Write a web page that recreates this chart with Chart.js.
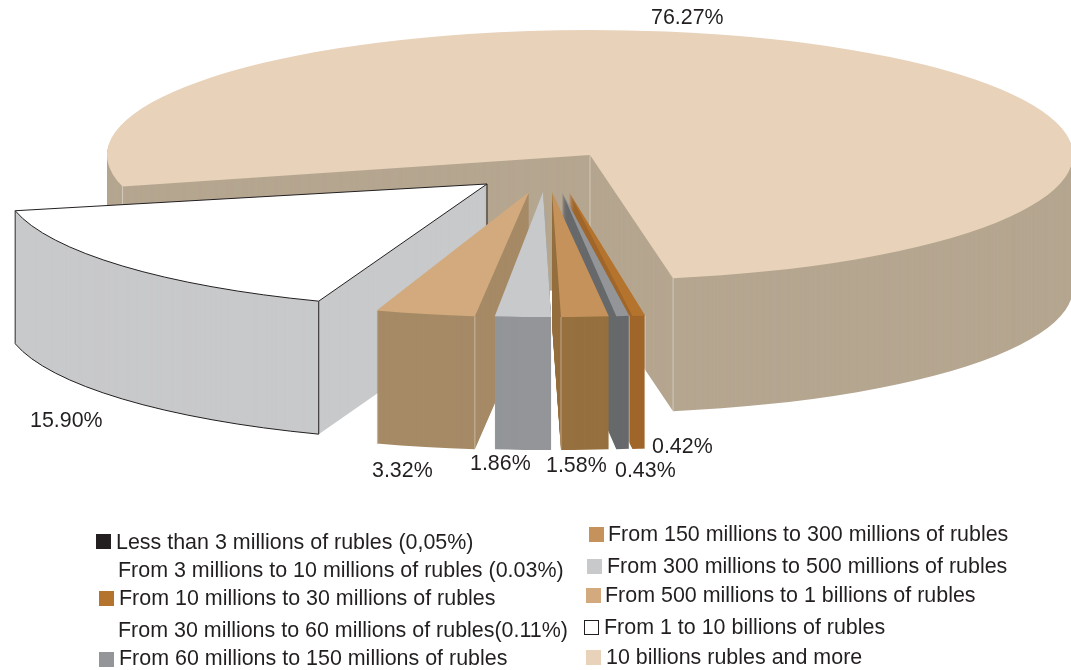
<!DOCTYPE html>
<html><head><meta charset="utf-8">
<script src="https://cdn.jsdelivr.net/npm/chart.js@4"></script>
<style>
html,body{margin:0;padding:0;background:#fff;overflow:hidden}
#wrap{position:relative;width:1071px;height:670px}
canvas{position:absolute;left:0;top:0}
.t{position:absolute;white-space:nowrap;font-family:"Liberation Sans",Arial,sans-serif;color:#231f20;transform:translateY(-50%);line-height:1}
.s{position:absolute;box-sizing:border-box}
</style></head><body>
<div id="wrap"><canvas id="c" width="1071" height="670"></canvas></div>
<script>
// ---- data ----
const categories = [
 "Less than 3 millions of rubles (0,05%)",
 "From 3 millions to 10 millions of rubles (0.03%)",
 "From 10 millions to 30 millions of rubles",
 "From 30 millions to 60 millions of rubles(0.11%)",
 "From 60 millions to 150 millions of rubles",
 "From 150 millions to 300 millions of rubles",
 "From 300 millions to 500 millions of rubles",
 "From 500 millions to 1 billions of rubles",
 "From 1 to 10 billions of rubles",
 "10 billions rubles and more"];
const values = [0.05,0.03,0.42,0.11,0.43,1.58,1.86,3.32,15.90,76.27];
// ---- styles ----
const topColors  = ["#231f20","#ffffff","#b5742e","#ffffff","#939598","#c4925a","#c8c9cb","#d2aa7e","#ffffff","#e8d2ba"];
const sideColors = ["#231f20","#ffffff","#a0662a","#ffffff","#67696b","#96703f","#939598","#a68a66","#c8c9cb","#b5a690"];
const swatchColors=["#231f20",null,"#b5742e",null,"#939598","#c4925a","#c8c9cb","#d2aa7e","#ffffff","#e8d2ba"];
// ---- layout (device px / degrees) ----
const CX=590, CY=155, RX=483, RY=125, DEPTH=133, ROT=170.1;
const shift=[[-21,37],[-21,37],[-21,37],[-28,37],[-28,37],[-38,37],[-47,37],[-61,37],[-103,29],[0,0]];
const turn =[0,0,0.55,0,-0.3,-0.6,-0.5,0.2,2.2,0];
const drawOrder=[9,8,7,2,4,5,6];
const creaseSide={2:'start',4:'start',5:'end',7:'start',8:'both',9:'both'};
const valuePos={9:[651,17],8:[30,420],7:[372,470],6:[470,463],5:[546,465],4:[615,470],2:[652,446]};
const legendPos=[
 {sw:[96,534],tx:[116,542.5]},{sw:null,tx:[118,570.5]},{sw:[99,591],tx:[119,598.5]},{sw:null,tx:[118,630.5]},{sw:[99,652],tx:[119,658.5]},
 {sw:[589,527],tx:[608,534.5]},{sw:[587,559],tx:[607,566.5]},{sw:[586,588],tx:[605,595.5]},{sw:[584,620],tx:[604,627.5]},{sw:[586,650],tx:[606,657.5]}];

const wrap=document.getElementById('wrap');
function addText(x,y,str,size){const d=document.createElement('div');d.className='t';d.textContent=str;d.style.left=x+'px';d.style.top=y+'px';d.style.fontSize=size+'px';wrap.appendChild(d);}
categories.forEach((c,i)=>{
 const p=legendPos[i];addText(p.tx[0],p.tx[1],c,21.45);
 if(p.sw){const s=document.createElement('div');s.className='s';s.style.cssText+=`left:${p.sw[0]}px;top:${p.sw[1]}px;width:15px;height:15px;background:${swatchColors[i]};`+(i===8?'border:1px solid #231f20;':'');wrap.appendChild(s);}
});
Object.keys(valuePos).forEach(k=>addText(valuePos[k][0],valuePos[k][1]+1,values[k].toFixed(2)+'%',21.4));

const pie3d={id:'pie3d',
 beforeDatasetsDraw(chart){
  const ctx=chart.ctx, arcs=chart.getDatasetMeta(0).data;
  const sx=RX/arcs[0].outerRadius, sy=RY/arcs[0].outerRadius;
  const place=(i,d)=>{const a=arcs[i];ctx.translate(CX+shift[i][0],CY+shift[i][1]+d);ctx.scale(sx,sy);ctx.rotate(turn[i]*Math.PI/180);ctx.translate(-a.x,-a.y);};
  const pt=(i,ang)=>{const t=ang+turn[i]*Math.PI/180;return [CX+shift[i][0]+RX*Math.cos(t),CY+shift[i][1]+RY*Math.sin(t)];};
  const paint=(i,color,d)=>{const a=arcs[i],o=a.options;a.options=Object.create(o,{backgroundColor:{value:color},borderWidth:{value:0},borderColor:{value:color}});
    ctx.save();place(i,d);a.draw(ctx);ctx.restore();a.options=o;};
  drawOrder.forEach(i=>{
   const a=arcs[i];
   for(let d=DEPTH;d>0;d--)paint(i,sideColors[i],d);
   // pale vertical creases on the slice's corners
   ctx.save();ctx.strokeStyle=i===8?'#231f20':'rgba(255,255,255,0.4)';ctx.lineWidth=1;
   const side=creaseSide[i];
   const corners=side==='both'?[a.startAngle,a.endAngle]:side==='start'?[a.startAngle]:side==='end'?[a.endAngle]:[];
   corners.forEach(ang=>{const p=pt(i,ang);ctx.beginPath();ctx.moveTo(p[0],p[1]);ctx.lineTo(p[0],p[1]+DEPTH);ctx.stroke();});
   const c=[CX+shift[i][0],CY+shift[i][1]];
   if(i===9||i===8){ctx.beginPath();ctx.moveTo(c[0],c[1]);ctx.lineTo(c[0],c[1]+DEPTH);ctx.stroke();}
   ctx.restore();
   paint(i,topColors[i],0);
   if(i===8){ // outlined slice
     ctx.save();ctx.strokeStyle='#231f20';ctx.lineWidth=1;
     const path=(d,closed)=>{ctx.save();place(i,d);ctx.beginPath();if(closed)ctx.moveTo(a.x,a.y);ctx.arc(a.x,a.y,a.outerRadius,a.startAngle,a.endAngle);if(closed)ctx.closePath();ctx.restore();ctx.stroke();};
     path(0,true);path(DEPTH,false);ctx.restore();
   }
  });
  return false;
 }};

new Chart(document.getElementById('c'),{
 type:'pie',
 data:{labels:categories,datasets:[{data:values,backgroundColor:topColors,borderWidth:0}]},
 options:{responsive:false,animation:false,rotation:ROT,layout:{padding:0},
  plugins:{legend:{display:false},tooltip:{enabled:false}}},
 plugins:[pie3d]
});
</script></body></html>
